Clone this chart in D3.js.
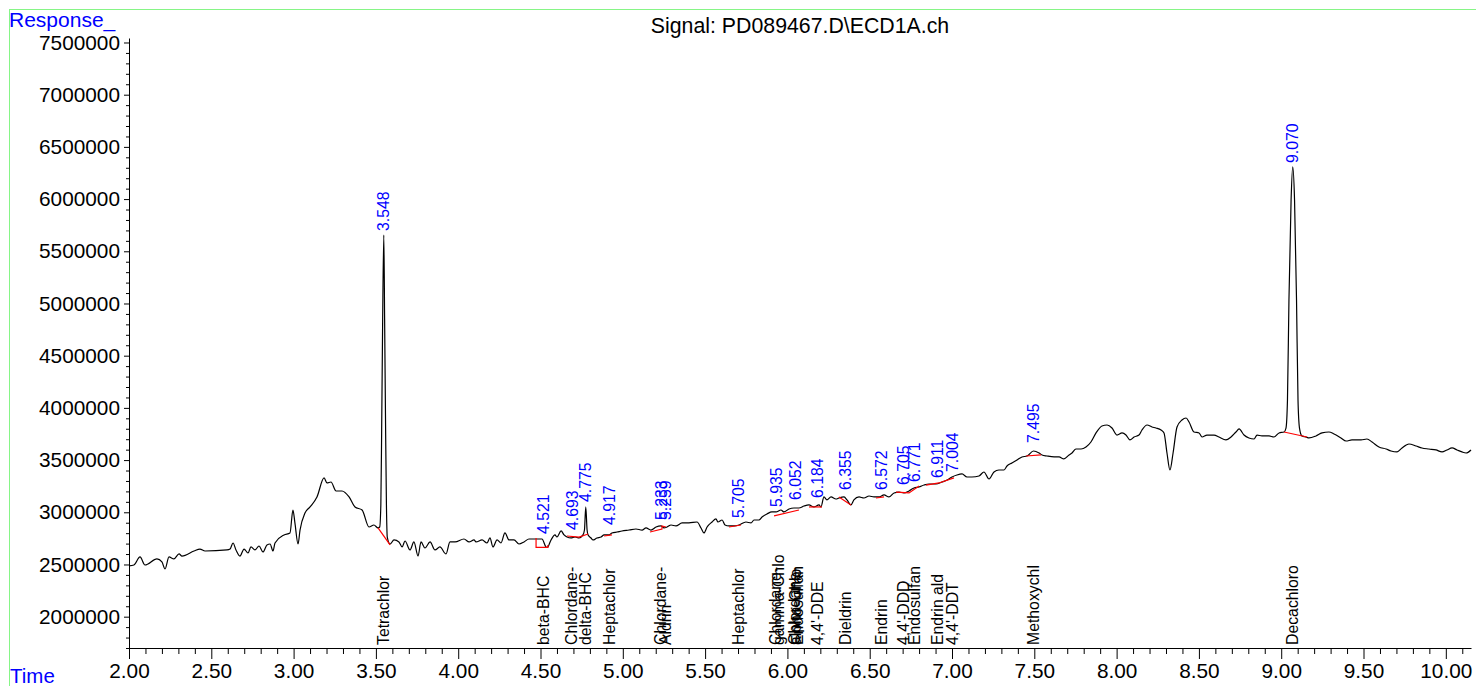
<!DOCTYPE html>
<html>
<head>
<meta charset="utf-8">
<script src="https://cdn.jsdelivr.net/npm/d3@7"></script>
<style>
  body { margin: 0; background: #fff; }
  text { font-family: "Liberation Sans", Arial, sans-serif; }
</style>
</head>
<body>
<div id="chart"></div>
<script>
// retention time (min) and detector response
const times = [
  2.000, 2.030, 2.067, 2.097, 2.170, 2.200, 2.219, 2.243, 2.273, 2.304, 2.322, 2.395, 2.431, 2.462,
  2.595, 2.614, 2.632, 2.650, 2.674, 2.699, 2.723, 2.741, 2.765, 2.790, 2.814, 2.838, 2.857, 2.875,
  2.887, 2.942, 2.978, 2.996, 3.008, 3.027, 3.039, 3.069, 3.100, 3.142, 3.185, 3.203, 3.227, 3.258,
  3.294, 3.337, 3.373, 3.416, 3.458, 3.488, 3.513, 3.523, 3.530, 3.535, 3.541, 3.548, 3.553, 3.559,
  3.564, 3.569, 3.586, 3.610, 3.640, 3.659, 3.677, 3.707, 3.731, 3.756, 3.774, 3.798, 3.829, 3.859,
  3.889, 3.926, 3.950, 3.981, 4.035, 4.066, 4.096, 4.108, 4.145, 4.175, 4.193, 4.211, 4.236, 4.260,
  4.284, 4.309, 4.339, 4.369, 4.400, 4.430, 4.473, 4.509, 4.533, 4.541, 4.564, 4.588, 4.600, 4.625,
  4.643, 4.661, 4.685, 4.710, 4.734, 4.758, 4.767, 4.775, 4.783, 4.789, 4.807, 4.819, 4.843, 4.868,
  4.886, 4.916, 4.934, 4.965, 4.995, 5.038, 5.080, 5.117, 5.141, 5.171, 5.202, 5.232, 5.250, 5.269,
  5.293, 5.323, 5.360, 5.402, 5.451, 5.475, 5.493, 5.512, 5.542, 5.566, 5.578, 5.603, 5.621, 5.645,
  5.676, 5.706, 5.748, 5.779, 5.797, 5.827, 5.846, 5.876, 5.906, 5.931, 5.961, 5.979, 6.010, 6.040,
  6.070, 6.101, 6.131, 6.161, 6.192, 6.204, 6.222, 6.240, 6.265, 6.295, 6.313, 6.344, 6.362, 6.386,
  6.404, 6.435, 6.465, 6.496, 6.526, 6.556, 6.587, 6.617, 6.648, 6.678, 6.708, 6.739, 6.769, 6.799,
  6.830, 6.860, 6.903, 6.939, 6.970, 7.000, 7.030, 7.061, 7.091, 7.121, 7.164, 7.194, 7.225, 7.255,
  7.285, 7.316, 7.334, 7.364, 7.395, 7.425, 7.456, 7.495, 7.529, 7.547, 7.577, 7.620, 7.650, 7.680,
  7.711, 7.729, 7.753, 7.784, 7.814, 7.844, 7.875, 7.911, 7.942, 7.972, 8.002, 8.033, 8.057, 8.081,
  8.106, 8.136, 8.154, 8.185, 8.215, 8.239, 8.270, 8.288, 8.306, 8.324, 8.343, 8.367, 8.397, 8.422,
  8.440, 8.470, 8.501, 8.519, 8.549, 8.592, 8.622, 8.664, 8.695, 8.725, 8.744, 8.774, 8.804, 8.835,
  8.853, 8.883, 8.926, 8.956, 8.987, 9.017, 9.029, 9.038, 9.047, 9.060, 9.070, 9.081, 9.093, 9.102,
  9.111, 9.126, 9.150, 9.169, 9.211, 9.248, 9.290, 9.321, 9.363, 9.394, 9.430, 9.485, 9.521, 9.552,
  9.594, 9.637, 9.667, 9.704, 9.734, 9.776, 9.819, 9.855, 9.898, 9.940, 9.977, 10.007, 10.038, 10.068,
  10.098, 10.123, 10.153
];
const responses = [
  2486000, 2495000, 2572000, 2495000, 2553000, 2524000, 2457000, 2572000, 2553000, 2601000, 2581000, 2629000, 2648000, 2629000,
  2639000, 2648000, 2706000, 2639000, 2581000, 2648000, 2610000, 2668000, 2639000, 2677000, 2620000, 2687000, 2696000, 2629000,
  2706000, 2783000, 2802000, 3022000, 2898000, 2696000, 2830000, 2993000, 3051000, 3147000, 3329000, 3281000, 3290000, 3204000,
  3204000, 3147000, 3051000, 3022000, 2859000, 2878000, 2850000, 2859000, 3070000, 3788000, 4842000, 5656000, 4842000, 3788000,
  3070000, 2763000, 2696000, 2735000, 2716000, 2668000, 2725000, 2639000, 2716000, 2581000, 2716000, 2658000, 2716000, 2639000,
  2668000, 2601000, 2716000, 2716000, 2744000, 2716000, 2735000, 2716000, 2735000, 2706000, 2754000, 2668000, 2735000, 2706000,
  2802000, 2735000, 2735000, 2696000, 2716000, 2744000, 2744000, 2744000, 2668000, 2663000, 2735000, 2783000, 2763000, 2821000,
  2783000, 2763000, 2754000, 2763000, 2754000, 2783000, 2830000, 3051000, 2830000, 2783000, 2754000, 2735000, 2754000, 2763000,
  2783000, 2783000, 2802000, 2811000, 2821000, 2830000, 2840000, 2830000, 2850000, 2830000, 2859000, 2869000, 2850000, 2859000,
  2878000, 2869000, 2898000, 2898000, 2907000, 2850000, 2802000, 2859000, 2907000, 2936000, 2907000, 2926000, 2878000, 2869000,
  2869000, 2878000, 2907000, 2898000, 2926000, 2926000, 2955000, 2984000, 3003000, 3003000, 3022000, 3003000, 3032000, 3041000,
  3041000, 3060000, 3070000, 3051000, 3070000, 3051000, 3147000, 3118000, 3147000, 3127000, 3137000, 3147000, 3118000, 3070000,
  3118000, 3147000, 3137000, 3156000, 3147000, 3147000, 3166000, 3147000, 3185000, 3194000, 3185000, 3204000, 3233000, 3242000,
  3261000, 3271000, 3271000, 3290000, 3309000, 3338000, 3357000, 3367000, 3338000, 3338000, 3348000, 3386000, 3319000, 3386000,
  3405000, 3405000, 3443000, 3472000, 3501000, 3530000, 3539000, 3587000, 3568000, 3549000, 3539000, 3530000, 3530000, 3511000,
  3549000, 3568000, 3606000, 3606000, 3625000, 3673000, 3760000, 3827000, 3836000, 3807000, 3740000, 3760000, 3740000, 3693000,
  3721000, 3740000, 3788000, 3836000, 3817000, 3807000, 3788000, 3760000, 3568000, 3405000, 3568000, 3817000, 3884000, 3903000,
  3865000, 3769000, 3760000, 3721000, 3740000, 3740000, 3721000, 3693000, 3721000, 3769000, 3798000, 3740000, 3712000, 3702000,
  3740000, 3731000, 3731000, 3721000, 3760000, 3769000, 3807000, 4075000, 5033000, 5991000, 6308000, 5991000, 5033000, 4075000,
  3807000, 3731000, 3721000, 3712000, 3731000, 3760000, 3769000, 3750000, 3712000, 3683000, 3693000, 3693000, 3702000, 3673000,
  3625000, 3606000, 3587000, 3578000, 3616000, 3654000, 3635000, 3616000, 3606000, 3597000, 3578000, 3597000, 3616000, 3597000,
  3578000, 3568000, 3597000
];

// integrated peaks: retention time and apex response
const peakTimes = [3.548, 4.521, 4.693, 4.775, 4.917, 5.233, 5.259, 5.705, 5.935, 6.052, 6.184, 6.355, 6.572, 6.705, 6.771, 6.911, 7.004, 7.495, 9.070];
const peakApex = [5656000, 2754000, 2792000, 3060000, 2840000, 2888000, 2888000, 2907000, 3012000, 3079000, 3099000, 3175000, 3175000, 3223000, 3252000, 3290000, 3348000, 3625000, 6308000];

// integration baselines (red)
const baselines = [
  [[3.513, 2850000], [3.586, 2687000]],
  [[4.473, 2754000], [4.473, 2663000], [4.545, 2663000], [4.545, 2687000]],
  [[4.661, 2773000], [4.734, 2763000], [4.789, 2792000]],
  [[4.886, 2773000], [4.934, 2783000]],
  [[5.165, 2811000], [5.238, 2840000], [5.238, 2869000], [5.262, 2859000]],
  [[5.645, 2859000], [5.718, 2878000]],
  [[5.919, 2965000], [6.070, 3022000]],
  [[6.131, 3051000], [6.210, 3051000]],
  [[6.313, 3147000], [6.386, 3070000]],
  [[6.538, 3137000], [6.587, 3147000]],
  [[6.660, 3194000], [6.739, 3185000], [6.800, 3252000]],
  [[6.842, 3261000], [6.921, 3281000], [7.012, 3329000]],
  [[7.450, 3539000], [7.541, 3549000]],
  [[9.017, 3769000], [9.157, 3721000]]
];

// compound names printed at their expected retention times
const compoundNames = ['Tetrachlor', 'beta-BHC', 'Chlordane-', 'delta-BHC', 'Heptachlor', 'Chlordane-', 'Aldrin', 'Heptachlor',
  'Chlordane-', 'gamma-Chlo', 'Chlordane-', 'alpha-Chlo', 'Endosulfan', '4,4\'-DDE', 'Dieldrin', 'Endrin', '4,4\'-DDD',
  'Endosulfan', 'Endrin ald', '4,4\'-DDT', 'Methoxychl', 'Decachloro'];
const compoundTimes = [3.548, 4.521, 4.690, 4.775, 4.917, 5.230, 5.262, 5.705,
  5.925, 5.945, 6.040, 6.050, 6.060, 6.184, 6.355, 6.572, 6.705,
  6.771, 6.911, 7.004, 7.495, 9.070];

const xMajor = [2.0, 2.5, 3.0, 3.5, 4.0, 4.5, 5.0, 5.5, 6.0, 6.5, 7.0, 7.5, 8.0, 8.5, 9.0, 9.5, 10.0];
const yMajor = [2000000, 2500000, 3000000, 3500000, 4000000, 4500000, 5000000, 5500000, 6000000, 6500000, 7000000, 7500000];

const width = 1476;
const height = 686;
const margin = { top: 38, right: 5, bottom: 38, left: 129 };

const svg = d3
  .select('#chart')
  .append('svg')
  .attr('width', width)
  .attr('height', height);

// light green frame
svg.append('rect')
  .attr('x', 9.5)
  .attr('y', 9.5)
  .attr('width', width + 20)
  .attr('height', height + 20)
  .attr('fill', 'none')
  .attr('stroke', '#86f586')
  .attr('stroke-width', 1);

const xScale = d3.scaleLinear().domain([2.0, 10.153]).range([margin.left, width - margin.right]);
const yScale = d3.scaleLinear().domain([1700000, 7543000]).range([height - margin.bottom, margin.top]);

const xMinor = d3.range(20, 102).map(d => d / 10).filter(d => !xMajor.includes(d));
const yMinor = d3.range(17, 76).map(d => d * 100000).filter(d => !yMajor.includes(d));

// x axis
svg.append('g')
  .attr('transform', `translate(0, ${height - margin.bottom})`)
  .call(d3.axisBottom(xScale).tickValues(xMinor).tickSize(6).tickFormat('').tickSizeOuter(0))
  .call(g => g.select('.domain').remove());
svg.append('g')
  .attr('transform', `translate(0, ${height - margin.bottom})`)
  .call(d3.axisBottom(xScale).tickValues(xMajor).tickFormat(d3.format('.2f')).tickSize(11).tickPadding(4).tickSizeOuter(0));

// y axis
svg.append('g')
  .attr('transform', `translate(${margin.left}, 0)`)
  .call(d3.axisLeft(yScale).tickValues(yMinor).tickSize(3).tickFormat('').tickSizeOuter(0))
  .call(g => g.select('.domain').remove());
svg.append('g')
  .attr('transform', `translate(${margin.left}, 0)`)
  .call(d3.axisLeft(yScale).tickValues(yMajor).tickFormat(d3.format('d')).tickSize(5).tickPadding(4).tickSizeOuter(0));

svg.selectAll('.tick text')
  .style('font-size', '20.8px')
  .attr('fill', '#000');
svg.selectAll('.domain, .tick line').attr('stroke', '#000');

// titles
svg.append('text')
  .attr('x', 9)
  .attr('y', 27)
  .attr('fill', '#0000ff')
  .style('font-size', '21px')
  .text('Response_');
svg.append('text')
  .attr('x', 10)
  .attr('y', 683)
  .attr('fill', '#0000ff')
  .style('font-size', '20.5px')
  .text('Time');
svg.append('text')
  .attr('x', 800)
  .attr('y', 33)
  .attr('text-anchor', 'middle')
  .attr('fill', '#000')
  .style('font-size', '21.3px')
  .text('Signal: PD089467.D\\ECD1A.ch');

// chromatogram trace
const trace = times.map((t, i) => ({ time: t, response: responses[i] }));
const line = d3.line()
  .x(d => xScale(d.time))
  .y(d => yScale(d.response))
  .curve(d3.curveMonotoneX);

svg.append('path')
  .datum(trace)
  .attr('fill', 'none')
  .attr('stroke', '#000')
  .attr('stroke-width', 1.2)
  .attr('d', line);

// integration baselines
const baseLine = d3.line()
  .x(d => xScale(d[0]))
  .y(d => yScale(d[1]));
svg.selectAll('.baseline')
  .data(baselines)
  .enter()
  .append('path')
  .attr('class', 'baseline')
  .attr('fill', 'none')
  .attr('stroke', '#ff0000')
  .attr('stroke-width', 1.2)
  .attr('d', baseLine);

// retention time labels
svg.selectAll('.rt')
  .data(peakTimes)
  .enter()
  .append('text')
  .attr('class', 'rt')
  .attr('transform', (d, i) => `translate(${xScale(d)}, ${yScale(peakApex[i]) - 4}) rotate(-90)`)
  .attr('dy', '0.35em')
  .attr('fill', '#0000ff')
  .style('font-size', '15.8px')
  .text(d => d.toFixed(3));

// compound names along the time axis
svg.selectAll('.compound')
  .data(compoundNames)
  .enter()
  .append('text')
  .attr('class', 'compound')
  .attr('transform', (d, i) => `translate(${xScale(compoundTimes[i])}, ${height - margin.bottom - 3}) rotate(-90)`)
  .attr('dy', '0.35em')
  .attr('fill', '#000')
  .style('font-size', '15.8px')
  .text(d => d);
</script>
</body>
</html>
